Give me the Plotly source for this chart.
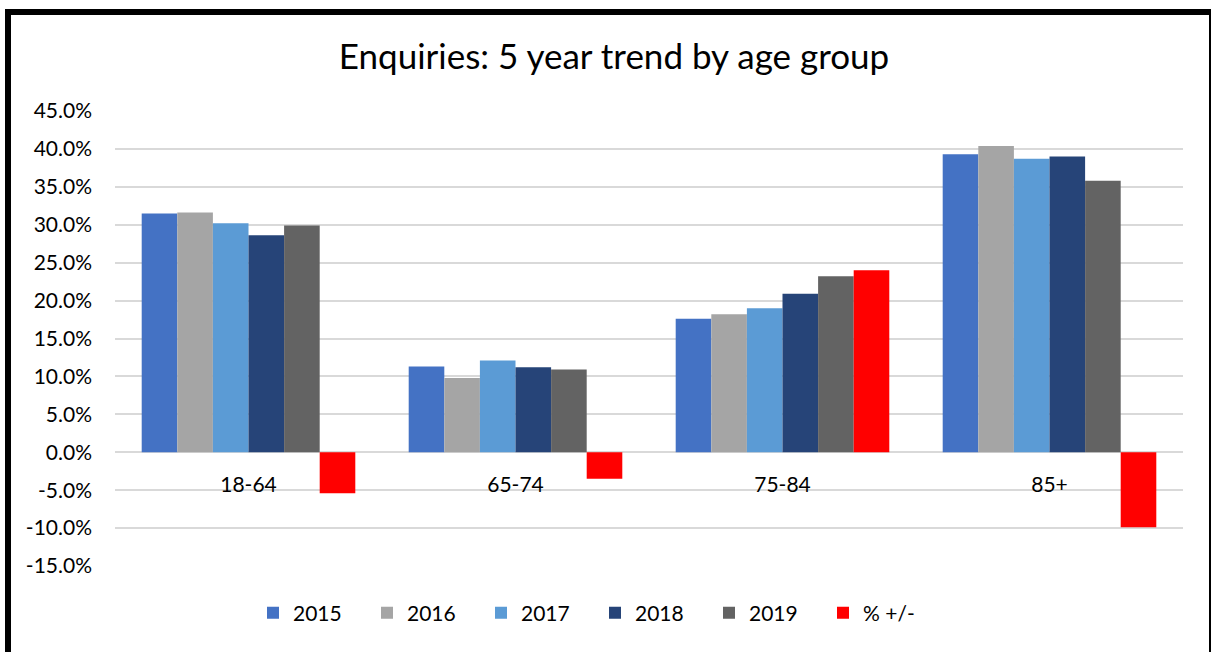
import plotly.graph_objects as go

categories = ["18-64", "65-74", "75-84", "85+"]
series_names = ["2015", "2016", "2017", "2018", "2019", "% +/-"]
v2015 = [0.315, 0.113, 0.176, 0.393]
v2016 = [0.316, 0.098, 0.182, 0.404]
v2017 = [0.302, 0.121, 0.190, 0.387]
v2018 = [0.286, 0.112, 0.209, 0.390]
v2019 = [0.299, 0.109, 0.232, 0.358]
vchange = [-0.054, -0.035, 0.240, -0.099]
colors = ["#4472C4", "#A5A5A5", "#5B9BD5", "#264478", "#636363", "#FF0000"]
ytick_vals = [-0.15, -0.10, -0.05, 0.0, 0.05, 0.10, 0.15, 0.20, 0.25, 0.30, 0.35, 0.40, 0.45]
ytick_text = ["-15.0%", "-10.0%", "-5.0%", "0.0%", "5.0%", "10.0%", "15.0%", "20.0%",
              "25.0%", "30.0%", "35.0%", "40.0%", "45.0%"]

W, H = 1211, 652
L, R, T, B = 115, 1183, 111, 566
FONT = "Lato"

def px(x):
    return (x - L) / (R - L)

def py(y):
    return (B - y) / (B - T)

fig = go.Figure()
for name, vals, col in zip(series_names, [v2015, v2016, v2017, v2018, v2019, vchange], colors):
    fig.add_trace(go.Bar(x=categories, y=vals, name=name, marker=dict(color=col, line=dict(width=0))))

fig.update_layout(
    width=W, height=H,
    margin=dict(l=L, r=W - R, t=T, b=H - B, pad=0),
    paper_bgcolor="white", plot_bgcolor="white",
    barmode="group", bargap=0.2, bargroupgap=0,
    font=dict(family=FONT, color="#000000", size=21),
    title=dict(text="Enquiries: 5 year trend by age group", x=614 / W, xanchor="center",
               y=1 - 57 / H, yanchor="middle", font=dict(family=FONT, size=35, color="#000000")),
    showlegend=True,
    legend=dict(orientation="h", x=px(595), xanchor="center", y=py(613), yanchor="middle",
                font=dict(family=FONT, size=21), entrywidth=69, entrywidthmode="pixels",
                itemwidth=30, bgcolor="rgba(0,0,0,0)", traceorder="normal"),
    xaxis=dict(type="category", anchor="free", position=0.25, showgrid=False, showline=False,
               zeroline=False, ticks="", ticklabelstandoff=18, tickfont=dict(size=21)),
    yaxis=dict(range=[-0.15, 0.45], tickvals=ytick_vals, ticktext=ytick_text, showgrid=True,
               gridcolor="#D9D9D9", gridwidth=1.5, zeroline=False, showline=False, ticks="",
               ticklabelstandoff=22, tickfont=dict(size=21)),
    shapes=[dict(type="rect", xref="paper", yref="paper", x0=px(8), x1=px(1212), y0=py(12), y1=py(664),
                 line=dict(color="black", width=6), fillcolor="rgba(0,0,0,0)", layer="above")],
)

fig.write_html("out.html", config={"displayModeBar": False},
               post_script="document.body.style.margin='0';document.body.style.overflow='hidden';")
